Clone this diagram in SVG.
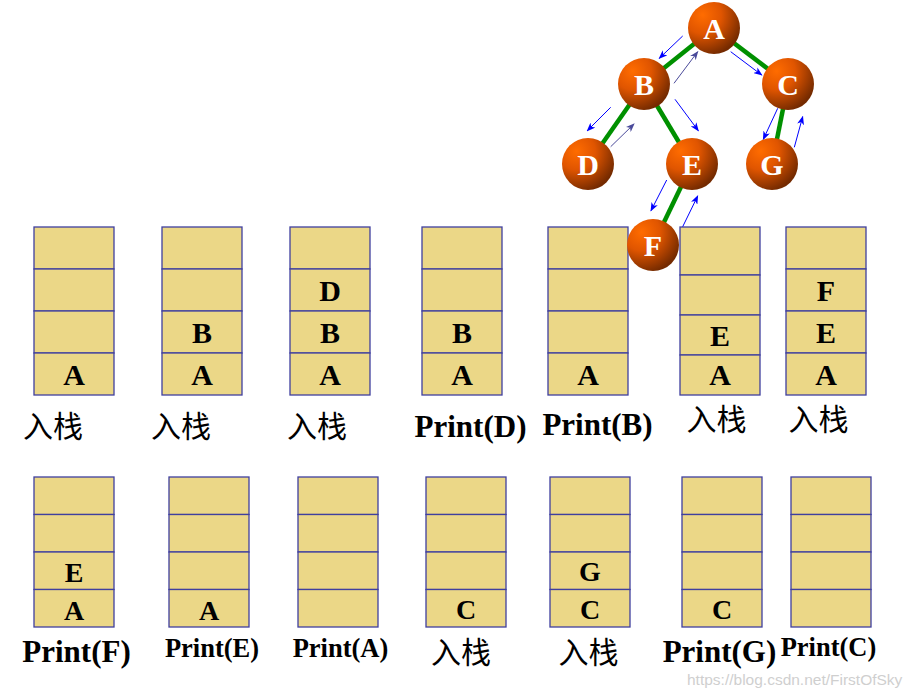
<svg xmlns="http://www.w3.org/2000/svg" width="913" height="698" viewBox="0 0 913 698">
<defs>
<radialGradient id="ball" cx="28%" cy="25%" r="80%">
<stop offset="0" stop-color="#FF6C00"/>
<stop offset="0.45" stop-color="#E05500"/>
<stop offset="1" stop-color="#742A00"/>
</radialGradient>
<marker id="ab" markerWidth="9" markerHeight="7" refX="8" refY="3.5" orient="auto" markerUnits="userSpaceOnUse">
<path d="M0,0 L9,3.5 L0,7 L2.5,3.5 z" fill="#0000FF"/>
</marker>
<marker id="ag" markerWidth="9" markerHeight="7" refX="8" refY="3.5" orient="auto" markerUnits="userSpaceOnUse">
<path d="M0,0 L9,3.5 L0,7 L2.5,3.5 z" fill="#4A4A9A"/>
</marker>
</defs>
<style>
.cell{fill:#EBD787;stroke:#3F3F9F;stroke-width:1.3}
.lt{font-family:"Liberation Serif","Times New Roman",serif;font-weight:bold;fill:#000;text-anchor:middle}
.l1{font-size:30px}
.l2{font-size:28px}
.pr{font-family:"Liberation Serif","Times New Roman",serif;font-weight:bold;fill:#000;text-anchor:middle}
.cn{font-family:"Noto Sans CJK SC",sans-serif;font-size:30px;fill:#000;text-anchor:middle}
.edge{stroke:#009000;stroke-width:4.5;fill:none}
.ar{stroke:#0000FF;stroke-width:1;fill:none;marker-end:url(#ab)}
.arg{stroke:#4A4A9A;stroke-width:1;fill:none;marker-end:url(#ag)}
.ball{fill:url(#ball)}
.bt{font-family:"Liberation Serif","Times New Roman",serif;font-weight:bold;font-size:30px;fill:#fff;text-anchor:middle}
</style>

<!-- Row 1 stacks -->
<g id="stack1">
<rect class="cell" x="34" y="227" width="80" height="42"/><rect class="cell" x="34" y="269" width="80" height="42"/><rect class="cell" x="34" y="311" width="80" height="42"/><rect class="cell" x="34" y="353" width="80" height="42"/>
<text class="lt l1" x="74" y="385">A</text>
<text class="cn" x="53" y="437">入栈</text>
</g>
<g id="stack2">
<rect class="cell" x="162" y="227" width="80" height="42"/><rect class="cell" x="162" y="269" width="80" height="42"/><rect class="cell" x="162" y="311" width="80" height="42"/><rect class="cell" x="162" y="353" width="80" height="42"/>
<text class="lt l1" x="202" y="343">B</text>
<text class="lt l1" x="202" y="385">A</text>
<text class="cn" x="181" y="437">入栈</text>
</g>
<g id="stack3">
<rect class="cell" x="290" y="227" width="80" height="42"/><rect class="cell" x="290" y="269" width="80" height="42"/><rect class="cell" x="290" y="311" width="80" height="42"/><rect class="cell" x="290" y="353" width="80" height="42"/>
<text class="lt l1" x="330" y="301">D</text>
<text class="lt l1" x="330" y="343">B</text>
<text class="lt l1" x="330" y="385">A</text>
<text class="cn" x="317" y="437">入栈</text>
</g>
<g id="stack4">
<rect class="cell" x="422" y="227" width="80" height="42"/><rect class="cell" x="422" y="269" width="80" height="42"/><rect class="cell" x="422" y="311" width="80" height="42"/><rect class="cell" x="422" y="353" width="80" height="42"/>
<text class="lt l1" x="462" y="343">B</text>
<text class="lt l1" x="462" y="385">A</text>
<text class="pr" x="470.5" y="437" font-size="31">Print(D)</text>
</g>
<g id="stack5">
<rect class="cell" x="548" y="227" width="80" height="42"/><rect class="cell" x="548" y="269" width="80" height="42"/><rect class="cell" x="548" y="311" width="80" height="42"/><rect class="cell" x="548" y="353" width="80" height="42"/>
<text class="lt l1" x="588" y="385">A</text>
<text class="pr" x="597.5" y="435" font-size="31">Print(B)</text>
</g>
<g id="stack6">
<rect class="cell" x="680" y="227" width="80" height="48"/><rect class="cell" x="680" y="275" width="80" height="40"/><rect class="cell" x="680" y="315" width="80" height="40"/><rect class="cell" x="680" y="355" width="80" height="40"/>
<text class="lt l1" x="720" y="346">E</text>
<text class="lt l1" x="720" y="385">A</text>
<text class="cn" x="716.5" y="430">入栈</text>
</g>
<g id="stack7">
<rect class="cell" x="786" y="227" width="80" height="42"/><rect class="cell" x="786" y="269" width="80" height="42"/><rect class="cell" x="786" y="311" width="80" height="42"/><rect class="cell" x="786" y="353" width="80" height="42"/>
<text class="lt l1" x="826" y="301">F</text>
<text class="lt l1" x="826" y="343">E</text>
<text class="lt l1" x="826" y="385">A</text>
<text class="cn" x="818.5" y="430">入栈</text>
</g>

<!-- Row 2 stacks -->
<g id="stack8">
<rect class="cell" x="34" y="477" width="80" height="37.5"/><rect class="cell" x="34" y="514.5" width="80" height="37.5"/><rect class="cell" x="34" y="552" width="80" height="37.5"/><rect class="cell" x="34" y="589.5" width="80" height="37.5"/>
<text class="lt l2" x="74" y="582">E</text>
<text class="lt l2" x="74" y="620">A</text>
<text class="pr" x="76.5" y="662" font-size="31">Print(F)</text>
</g>
<g id="stack9">
<rect class="cell" x="169" y="477" width="80" height="37.5"/><rect class="cell" x="169" y="514.5" width="80" height="37.5"/><rect class="cell" x="169" y="552" width="80" height="37.5"/><rect class="cell" x="169" y="589.5" width="80" height="37.5"/>
<text class="lt l2" x="209" y="620">A</text>
<text class="pr" x="212" y="657" font-size="26.5">Print(E)</text>
</g>
<g id="stack10">
<rect class="cell" x="298" y="477" width="80" height="37.5"/><rect class="cell" x="298" y="514.5" width="80" height="37.5"/><rect class="cell" x="298" y="552" width="80" height="37.5"/><rect class="cell" x="298" y="589.5" width="80" height="37.5"/>
<text class="pr" x="340.5" y="657" font-size="26.5">Print(A)</text>
</g>
<g id="stack11">
<rect class="cell" x="426" y="477" width="80" height="37.5"/><rect class="cell" x="426" y="514.5" width="80" height="37.5"/><rect class="cell" x="426" y="552" width="80" height="37.5"/><rect class="cell" x="426" y="589.5" width="80" height="37.5"/>
<text class="lt l2" x="466" y="619">C</text>
<text class="cn" x="461" y="663">入栈</text>
</g>
<g id="stack12">
<rect class="cell" x="550" y="477" width="80" height="37.5"/><rect class="cell" x="550" y="514.5" width="80" height="37.5"/><rect class="cell" x="550" y="552" width="80" height="37.5"/><rect class="cell" x="550" y="589.5" width="80" height="37.5"/>
<text class="lt l2" x="590" y="581">G</text>
<text class="lt l2" x="590" y="619">C</text>
<text class="cn" x="588.5" y="663">入栈</text>
</g>
<g id="stack13">
<rect class="cell" x="682" y="477" width="80" height="37.5"/><rect class="cell" x="682" y="514.5" width="80" height="37.5"/><rect class="cell" x="682" y="552" width="80" height="37.5"/><rect class="cell" x="682" y="589.5" width="80" height="37.5"/>
<text class="lt l2" x="722" y="619">C</text>
<text class="pr" x="719.5" y="662" font-size="31">Print(G)</text>
</g>
<g id="stack14">
<rect class="cell" x="791" y="477" width="80" height="37.5"/><rect class="cell" x="791" y="514.5" width="80" height="37.5"/><rect class="cell" x="791" y="552" width="80" height="37.5"/><rect class="cell" x="791" y="589.5" width="80" height="37.5"/>
<text class="pr" x="828.5" y="656" font-size="26.5">Print(C)</text>
</g>

<!-- Tree connectors -->
<g id="connectors">
<line class="edge" x1="714" y1="28" x2="644" y2="84"/>
<line class="edge" x1="714" y1="28" x2="788" y2="84"/>
<line class="edge" x1="644" y1="84" x2="588" y2="164"/>
<line class="edge" x1="644" y1="84" x2="692" y2="164"/>
<line class="edge" x1="788" y1="84" x2="772" y2="164"/>
<line class="edge" x1="692" y1="164" x2="653" y2="245"/>
<line class="ar" x1="682.7" y1="36" x2="659.3" y2="58.3"/>
<line class="arg" x1="674" y1="83.3" x2="697.7" y2="51.7"/>
<line class="ar" x1="730.7" y1="51.7" x2="761.7" y2="75"/>
<line class="ar" x1="610.7" y1="107.3" x2="587.3" y2="130.7"/>
<line class="arg" x1="610.7" y1="146.7" x2="634" y2="124"/>
<line class="ar" x1="675" y1="99.3" x2="698.3" y2="130.7"/>
<line class="ar" x1="666.7" y1="180" x2="651" y2="210.7"/>
<line class="ar" x1="682.7" y1="226.7" x2="697.7" y2="196"/>
<line class="ar" x1="777.7" y1="108.3" x2="763.3" y2="139.3"/>
<line class="ar" x1="794.3" y1="147.3" x2="802.7" y2="116.7"/>
</g>

<!-- Tree nodes -->
<g id="nodeA"><circle class="ball" cx="714" cy="28" r="26"/><text class="bt" x="714" y="39">A</text></g>
<g id="nodeB"><circle class="ball" cx="644" cy="84" r="26"/><text class="bt" x="644" y="95">B</text></g>
<g id="nodeC"><circle class="ball" cx="788" cy="84" r="26"/><text class="bt" x="788" y="95">C</text></g>
<g id="nodeD"><circle class="ball" cx="588" cy="164" r="26"/><text class="bt" x="588" y="175">D</text></g>
<g id="nodeE"><circle class="ball" cx="692" cy="164" r="26"/><text class="bt" x="692" y="175">E</text></g>
<g id="nodeG"><circle class="ball" cx="772" cy="164" r="26"/><text class="bt" x="772" y="175">G</text></g>
<g id="nodeF"><circle class="ball" cx="653" cy="245" r="26"/><text class="bt" x="653" y="256">F</text></g>

<text x="687" y="685" font-family="Liberation Sans, Arial, sans-serif" font-size="15.5" fill="#CFCFCF">https://blog.csdn.net/FirstOfSky</text>
</svg>
